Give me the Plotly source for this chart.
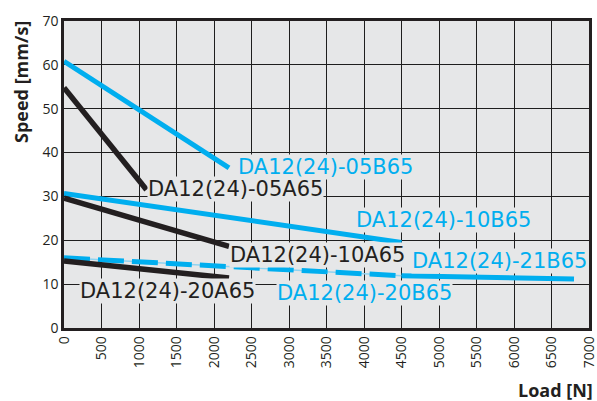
import plotly.graph_objects as go

# ---- data ----
load_05B65 = [0, 2200]
speed_05B65 = [60.8, 36.5]
load_05A65 = [0, 1100]
speed_05A65 = [54.8, 31.5]
load_10B65 = [0, 4500]
speed_10B65 = [30.7, 19.5]
load_10A65 = [0, 2200]
speed_10A65 = [29.6, 18.6]
load_20B65 = [0, 4500]
speed_20B65 = [16.0, 11.9]
load_21B65 = [4500, 6800]
speed_21B65 = [11.9, 11.2]
load_20A65 = [0, 2200]
speed_20A65 = [15.3, 11.4]

x_ticks = [0, 500, 1000, 1500, 2000, 2500, 3000, 3500, 4000, 4500, 5000, 5500, 6000, 6500, 7000]
y_ticks = [0, 10, 20, 30, 40, 50, 60, 70]

label_names = ["DA12(24)-05B65", "DA12(24)-05A65", "DA12(24)-10B65", "DA12(24)-10A65",
               "DA12(24)-21B65", "DA12(24)-20B65", "DA12(24)-20A65"]
label_x = [3487, 2285, 5061, 3380, 5805, 4011, 1375]
label_y = [36.7, 31.7, 24.6, 16.6, 15.3, 8.0, 8.4]
label_color_key = ["B", "A", "B", "A", "B", "B", "A"]

BLUE = "#00aeef"
BLACK = "#231f20"
BG = "#e6e7e8"

fig = go.Figure()

def add_line(x, y, color, width, dash=None):
    fig.add_trace(go.Scatter(x=x, y=y, mode="lines",
                             line=dict(color=color, width=width, dash=dash),
                             hoverinfo="skip", showlegend=False))

add_line(load_20B65, speed_20B65, "#8fd3f0", 1.5)
add_line(load_20B65, speed_20B65, BLUE, 5, "26px,8px")
add_line(load_21B65, speed_21B65, BLUE, 5)
add_line(load_20A65, speed_20A65, BLACK, 5.5)
add_line(load_10B65, speed_10B65, BLUE, 5)
add_line(load_10A65, speed_10A65, BLACK, 5.5)
add_line(load_05B65, speed_05B65, BLUE, 5)
add_line(load_05A65, speed_05A65, BLACK, 5.5)

for name, lx, ly, key in zip(label_names, label_x, label_y, label_color_key):
    fig.add_annotation(x=lx, y=ly, xref="x", yref="y", text=name, showarrow=False,
                       xanchor="center", yanchor="middle",
                       font=dict(family="DejaVu Sans", size=21,
                                 color=BLUE if key == "B" else BLACK),
                       bgcolor=BG, borderpad=0)

fig.add_annotation(x=(21 - 64) / 525, y=(328 - 82) / 307, xref="paper", yref="paper",
                   text="<b>Speed [mm/s]</b>", textangle=-90, showarrow=False,
                   xanchor="center", yanchor="middle",
                   font=dict(family="Open Sans", size=18, color=BLACK))
fig.add_annotation(x=(595 - 64) / 525, y=(328 - 390) / 307, xref="paper", yref="paper",
                   text="<b>Load [N]</b>", showarrow=False,
                   xanchor="right", yanchor="middle",
                   font=dict(family="Open Sans", size=18, color=BLACK))

axis_common = dict(showgrid=True, gridcolor="#1e1e1e", gridwidth=1,
                   showline=True, linecolor=BLACK, linewidth=2.5, mirror=True,
                   zeroline=False, ticks="", fixedrange=True, automargin=False,
                   ticklabeloverflow="allow",
                   tickfont=dict(family="Open Sans", size=14, color=BLACK))

fig.update_xaxes(range=[0, 7000], tickvals=x_ticks, ticktext=[str(v) for v in x_ticks],
                 tickangle=-90, **axis_common)
fig.update_yaxes(range=[0, 70], tickvals=y_ticks, ticktext=[str(v) for v in y_ticks],
                 **axis_common)

fig.update_layout(width=597, height=401, autosize=False,
                  margin=dict(l=64, r=8, t=21, b=73),
                  plot_bgcolor=BG, paper_bgcolor="white",
                  showlegend=False)

fig.write_html("out.html", config={"displayModeBar": False},
               post_script="document.body.style.margin='0';document.body.style.overflow='hidden';")
